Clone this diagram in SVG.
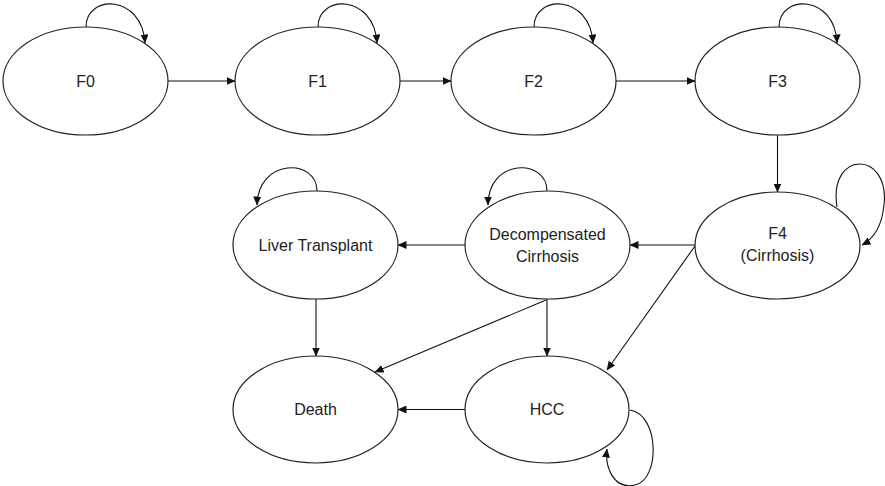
<svg xmlns="http://www.w3.org/2000/svg" width="885" height="486" viewBox="0 0 885 486">
<defs>
<marker id="ah" markerWidth="9" markerHeight="8" refX="8.5" refY="4" orient="auto" markerUnits="userSpaceOnUse">
<path d="M0,0 L9,4 L0,8 Z" fill="#111"/>
</marker>
<style>
.n ellipse{fill:#fff;stroke:#222;stroke-width:1.2}
.n text{font-family:"Liberation Sans",Arial,sans-serif;font-size:16px;fill:#222;text-anchor:middle}
.e path,.e line{fill:none;stroke:#111;stroke-width:1.1;marker-end:url(#ah)}
</style>
</defs>
<rect width="885" height="486" fill="#fff"/>
<g class="n" id="F0"><ellipse cx="85.5" cy="81" rx="82.5" ry="54"/><text x="85.5" y="87">F0</text></g>
<g class="n" id="F1"><ellipse cx="317.5" cy="81" rx="82.5" ry="54"/><text x="317.5" y="87">F1</text></g>
<g class="n" id="F2"><ellipse cx="533.5" cy="81" rx="82.5" ry="54"/><text x="533.5" y="87">F2</text></g>
<g class="n" id="F3"><ellipse cx="777.5" cy="81" rx="82.5" ry="54"/><text x="777.5" y="87">F3</text></g>
<g class="n" id="F4"><ellipse cx="777.5" cy="245.5" rx="82.5" ry="53.5"/><text x="777.5" y="239">F4</text><text x="777.5" y="261">(Cirrhosis)</text></g>
<g class="n" id="LT"><ellipse cx="315.5" cy="245" rx="82.5" ry="54"/><text x="315.5" y="251">Liver Transplant</text></g>
<g class="n" id="DC"><ellipse cx="547.5" cy="245" rx="82.5" ry="54"/><text x="547.5" y="240">Decompensated</text><text x="547.5" y="262">Cirrhosis</text></g>
<g class="n" id="Death"><ellipse cx="315.5" cy="409.5" rx="82.5" ry="53.5"/><text x="315.5" y="415">Death</text></g>
<g class="n" id="HCC"><ellipse cx="547" cy="409.5" rx="82" ry="53.5"/><text x="547" y="415">HCC</text></g>
<g class="e" id="connectors">
<line x1="168" y1="81" x2="235" y2="81"/>
<line x1="400" y1="81" x2="451" y2="81"/>
<line x1="616" y1="81" x2="695" y2="81"/>
<line x1="777.5" y1="135" x2="777.5" y2="192"/>
<line x1="695" y1="245" x2="630" y2="245"/>
<line x1="465" y1="245" x2="398" y2="245"/>
<line x1="316" y1="299" x2="316" y2="356"/>
<line x1="547" y1="299" x2="547" y2="356"/>
<line x1="546" y1="300" x2="375" y2="372"/>
<line x1="695" y1="246" x2="607" y2="370"/>
<line x1="465" y1="409.5" x2="398" y2="409.5"/>
<path d="M86,27 C86,-6 142,-6 145,43"/>
<path d="M318,27 C318,-6 374,-6 377,43"/>
<path d="M534,27 C534,-6 590,-6 593,43"/>
<path d="M779,27 C779,-6 835,-6 837,43"/>
<path d="M837,207 C828,150 890,150 884,205 C882,225 875,238 862,245"/>
<path d="M317,191 C317,158 258,158 257,205"/>
<path d="M547,191 C547,158 488,158 488,205"/>
<path d="M630,410 C660,415 660,480 635,485 C612,490 605,465 607,449"/>
</g>
</svg>
